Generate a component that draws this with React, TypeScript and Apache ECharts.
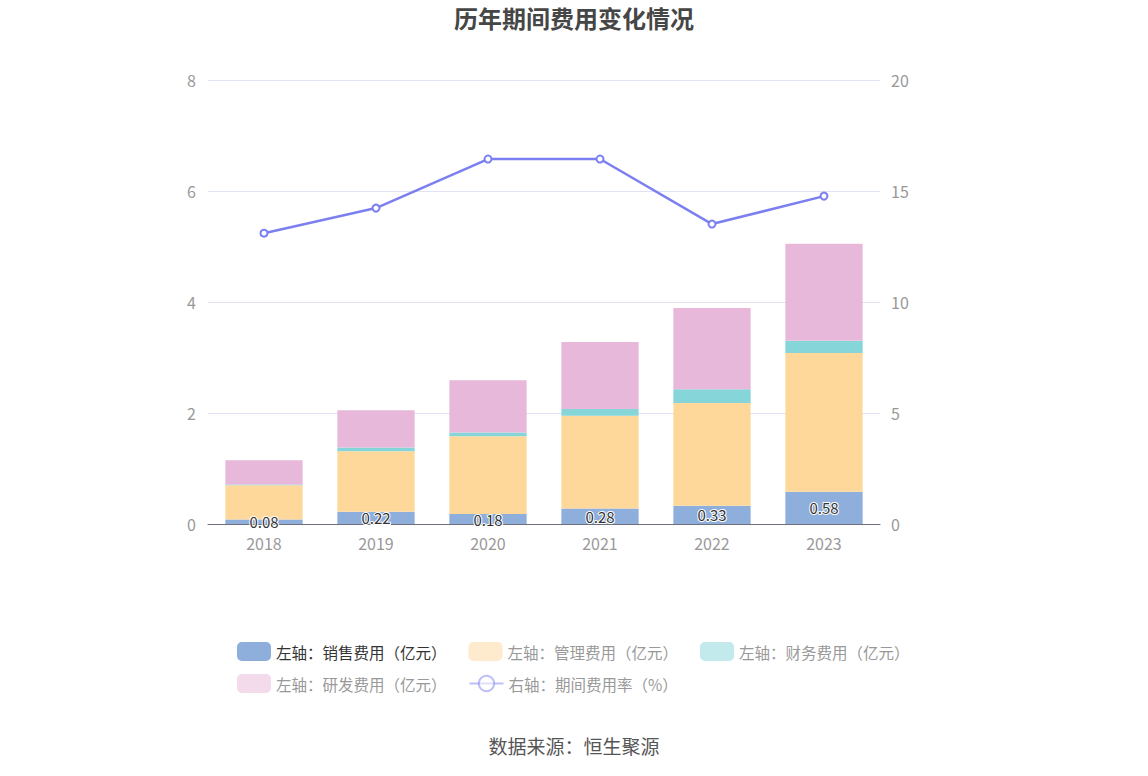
import React, { useEffect, useRef } from "react";
import * as echarts from "echarts";

const years = ["2018", "2019", "2020", "2021", "2022", "2023"];
const salesFee = [0.08, 0.22, 0.18, 0.28, 0.33, 0.58];
const mgmtFee = [0.62, 1.09, 1.4, 1.67, 1.85, 2.5];
const financeFee = [0.01, 0.07, 0.07, 0.12, 0.25, 0.22];
const rdFee = [0.44, 0.67, 0.94, 1.21, 1.46, 1.75];
const expenseRate = [13.1, 14.23, 16.44, 16.44, 13.51, 14.77];

const names = [
  "左轴：销售费用（亿元）",
  "左轴：管理费用（亿元）",
  "左轴：财务费用（亿元）",
  "左轴：研发费用（亿元）",
  "右轴：期间费用率（%）",
];

export default function App() {
  const ref = useRef<HTMLDivElement>(null);
  useEffect(() => {
    document.body.style.margin = "0";
    const chart = echarts.init(ref.current!, null, { renderer: "svg" });
    const font = "'Noto Sans CJK SC', 'Noto Sans', sans-serif";
    const legendBase = {
      itemWidth: 34,
      itemHeight: 19,
      itemGap: 22,
      textStyle: { fontSize: 15.5, color: "#999", fontFamily: font },
    };
    chart.setOption({
      animation: false,
      textStyle: { fontFamily: font },
      title: {
        text: "历年期间费用变化情况",
        left: "center",
        top: 0,
        textStyle: { fontSize: 24, fontWeight: "bold", color: "#464646", fontFamily: font },
      },
      grid: { left: 208, right: 268, top: 80, bottom: 252 },
      legend: [
        {
          ...legendBase,
          top: 637,
          left: 232,
          data: [
            { name: names[0], textStyle: { color: "#333" } },
            { name: names[1], itemStyle: { opacity: 0.5 } },
            { name: names[2], itemStyle: { opacity: 0.5 } },
          ],
        },
        {
          ...legendBase,
          top: 669,
          left: 232,
          data: [
            { name: names[3], itemStyle: { opacity: 0.5 } },
            { name: names[4], itemStyle: { opacity: 0.5 }, lineStyle: { opacity: 0.5 } },
          ],
        },
      ],
      graphic: [
        {
          type: "text",
          left: "center",
          top: 736,
          style: { text: "数据来源：恒生聚源", fontSize: 19, fill: "#555", fontFamily: font },
        },
      ],
      xAxis: {
        type: "category",
        data: years,
        axisLine: { lineStyle: { color: "#6e7079" } },
        axisTick: { alignWithLabel: true, lineStyle: { color: "#6e7079" } },
        axisLabel: { color: "#999", fontSize: 16, margin: 11 },
      },
      yAxis: [
        {
          type: "value",
          min: 0,
          max: 8,
          interval: 2,
          axisLabel: { color: "#999", fontSize: 16, margin: 12 },
          splitLine: { lineStyle: { color: "#e0e3f3" } },
        },
        {
          type: "value",
          min: 0,
          max: 20,
          interval: 5,
          axisLabel: { color: "#999", fontSize: 16, margin: 11 },
          splitLine: { show: false },
        },
      ],
      series: [
        {
          name: names[0],
          type: "bar",
          stack: "fee",
          barWidth: "69%",
          data: salesFee,
          itemStyle: { color: "#8eaedc" },
          label: {
            show: true,
            position: "inside",
            color: "#333",
            fontSize: 15,
            textBorderColor: "#fff",
            textBorderWidth: 2,
          },
        },
        { name: names[1], type: "bar", stack: "fee", data: mgmtFee, itemStyle: { color: "#fed89b" } },
        { name: names[2], type: "bar", stack: "fee", data: financeFee, itemStyle: { color: "#86d5d9" } },
        { name: names[3], type: "bar", stack: "fee", data: rdFee, itemStyle: { color: "#e7b8da" } },
        {
          name: names[4],
          type: "line",
          yAxisIndex: 1,
          data: expenseRate,
          symbol: "emptyCircle",
          symbolSize: 7,
          lineStyle: { color: "#7b7ff0", width: 2.5 },
          itemStyle: { color: "#7b7ff0", borderWidth: 2 },
        },
      ],
    });
    return () => chart.dispose();
  }, []);
  return <div ref={ref} style={{ width: 1148, height: 776 }} />;
}
